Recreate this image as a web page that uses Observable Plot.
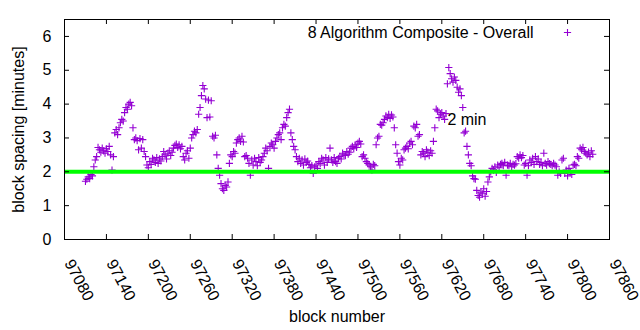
<!DOCTYPE html>
<html><head><meta charset="utf-8">
<script src="https://cdn.jsdelivr.net/npm/d3@7"></script>
<script src="https://cdn.jsdelivr.net/npm/@observablehq/plot@0.6"></script>
<style>body{margin:0;background:#fff} svg{display:block}</style>
</head><body><div id="chart"></div>
<script>
const xTicks = [97080, 97140, 97200, 97260, 97320, 97380, 97440, 97500, 97560, 97620, 97680, 97740, 97800, 97860];
const yTicks = [0, 1, 2, 3, 4, 5, 6];
const seriesName = "8 Algorithm Composite - Overall";
const targetMinutes = [2];
const annotations = [{block: 97628, minutes: 3.52, label: "2 min"}];
const xLabel = "block number";
const yLabel = "block spacing [minutes]";

// [first block, spacing values for every 2nd block]
const rows = [
  [97110, [1.72,1.78,1.85,1.80,1.92,1.88]],
  [97122, [2.15,2.35,2.45]],
  [97128, [2.72,2.65,2.58,2.70,2.62,2.55,2.68,2.60,2.75,2.50]],
  [97148, [2.05,2.45]],
  [97152, [3.15,3.25,3.10,3.30,3.45,3.55,3.50]],
  [97166, [3.75,3.90,3.85,4.00,4.05,3.95]],
  [97178, [3.30,2.95,3.00,2.92,2.65,2.98,2.70,2.95]],
  [97194, [2.60,2.45,2.20,2.12]],
  [97202, [2.30,2.22,2.40,2.35,2.28,2.42,2.25,2.38,2.32]],
  [97220, [2.45,2.60,2.50,2.38,2.55,2.62,2.48,2.58]],
  [97236, [2.70,2.78,2.82,2.72,2.80,2.68,2.75]],
  [97250, [2.45,2.35,2.55,2.62,2.40]],
  [97260, [2.70,3.00,3.10,3.20,3.15,3.25]],
  [97272, [3.70,3.90,4.25,4.55,4.45]],
  [97282, [4.15,3.60,4.12,3.62,4.10]],
  [97292, [3.05,3.00,3.08,2.50,2.10,1.90]],
  [97304, [1.65,1.50,1.45,1.60,1.55,1.70]],
  [97316, [2.25,2.50,2.45,2.60,2.55]],
  [97326, [2.85,2.95,3.00,2.90,3.05,2.88]],
  [97338, [2.45,2.48,2.40]],
  [97344, [2.25,1.90,2.35,2.20,2.40,2.30,2.18,2.42,2.28,2.35,2.45]],
  [97366, [2.55,2.70,2.62,2.10]],
  [97374, [2.75,2.85,2.80,2.70,2.90]],
  [97384, [3.00,3.10,3.15,2.95,3.30,3.40,3.35]],
  [97398, [3.60,3.75,3.85,3.15,2.95,2.75,2.65]],
  [97412, [2.45,2.30,2.40]],
  [97418, [2.25,2.35,2.20,2.38,2.28,2.32,2.22]],
  [97432, [2.12,2.18,1.95,2.15,2.20,2.10]],
  [97444, [2.30,2.25,2.40,2.35,2.20,2.42,2.28,2.38]],
  [97460, [2.70,2.35,2.28,2.42,2.30,2.25,2.40,2.45,2.38]],
  [97478, [2.55,2.50,2.48,2.60,2.52,2.58]],
  [97490, [2.70,2.75,2.68,2.80,2.72,2.85,2.90,2.82]],
  [97506, [2.45,2.50,2.40,2.30,2.25]],
  [97516, [2.20,2.15,2.05,2.22,2.18]],
  [97526, [2.80,3.00,3.05,3.40,3.38,3.45]],
  [97538, [3.55,3.65,3.60,3.70,3.58,3.68,3.62]],
  [97552, [3.30,2.80,2.55]],
  [97558, [2.30,2.20,2.40,2.35,2.65,2.70,2.75,2.68]],
  [97574, [2.85,2.90,2.80,3.35,3.30,3.40,3.05,3.10]],
  [97590, [2.50,2.60,2.55,2.45,2.65,2.58,2.48,2.62,2.55]],
  [97608, [2.90,3.30,3.85,3.80]],
  [97616, [3.60,3.70,3.75,3.65,3.55,3.72]],
  [97628, [4.60,5.08,4.90,4.75,4.65,4.80,4.70]],
  [97642, [4.50,4.35,4.45,4.25,3.90]],
  [97652, [3.15,3.20,2.75,2.50,2.25,2.18]],
  [97664, [1.88,1.80,1.78]],
  [97670, [1.45,1.30,1.25,1.40,1.35,1.50,1.28,1.42]],
  [97686, [1.70,1.85]],
  [97690, [2.00,2.10,2.05,2.15,1.98,2.20,2.12]],
  [97704, [2.22,2.25,2.18,2.28,1.90]],
  [97714, [2.20,2.18,2.25,2.15,2.22,2.20,2.24]],
  [97728, [2.45,2.40,2.50,2.42,2.48]],
  [97738, [2.20,2.25,1.90,2.18]],
  [97746, [2.35,2.28,2.40,2.22,2.45,2.30,2.38]],
  [97760, [2.22,2.28,2.18,2.55,2.25,2.20,2.30,2.24]],
  [97776, [2.22,2.18,2.25,2.20,2.15]],
  [97786, [1.90,2.00,1.95,2.35,2.40]],
  [97796, [1.95,2.05,1.88,2.10,2.00,1.92]],
  [97808, [2.20,2.22,2.18,2.45,2.40]],
  [97818, [2.70,2.65,2.72,2.60,2.55,2.50,2.58,2.45,2.62,2.52]]
];
const points = rows.flatMap(([start, vals]) => vals.map((v, i) => ({block: start + 2 * i, minutes: v})));

const plusSymbol = {
  draw(ctx, size) {
    const r = Math.sqrt(size / Math.PI);
    ctx.moveTo(-r, 0); ctx.lineTo(r, 0);
    ctx.moveTo(0, -r); ctx.lineTo(0, r);
  }
};
const purple = "#9400d3";
const font = "'Liberation Sans', Arial, sans-serif";

const chart = Plot.plot({
  width: 640, height: 330,
  marginLeft: 64, marginRight: 31, marginTop: 19, marginBottom: 91,
  style: {fontFamily: font, fontSize: "16px", color: "#000", background: "#fff"},
  x: {domain: [97080, 97860], axis: null},
  y: {domain: [0, 6.5], axis: null},
  marks: [
    Plot.dot(points, {x: "block", y: "minutes", symbol: plusSymbol, r: 3.6, fill: "none", stroke: purple, strokeWidth: 1.1}),
    Plot.ruleY(targetMinutes, {stroke: "#00ff00", strokeWidth: 4}),
    Plot.frame({stroke: "#000"}),
    Plot.tickX(xTicks, {x: d => d, insetTop: 215, stroke: "#000"}),
    Plot.tickX(xTicks, {x: d => d, insetBottom: 215, stroke: "#000"}),
    Plot.tickY(yTicks, {y: d => d, insetRight: 540, stroke: "#000"}),
    Plot.tickY(yTicks, {y: d => d, insetLeft: 540, stroke: "#000"}),
    Plot.text(yTicks, {y: d => d, text: d => String(d), frameAnchor: "left", textAnchor: "end", lineAnchor: "middle", dx: -13, fill: "#000"}),
    Plot.text(xTicks, {x: d => d, text: d => String(d), frameAnchor: "bottom", rotate: 62, textAnchor: "start", lineAnchor: "middle", dx: 4, dy: 21, fill: "#000"}),
    Plot.text([yLabel], {frameAnchor: "left", rotate: -90, dx: -46, textAnchor: "middle", lineAnchor: "middle", fill: "#000"}),
    Plot.text([xLabel], {frameAnchor: "bottom", dy: 77, textAnchor: "middle", lineAnchor: "middle", fill: "#000"}),
    Plot.text([seriesName], {frameAnchor: "top-right", dx: -76, dy: 13, textAnchor: "end", lineAnchor: "middle", fill: "#000"}),
    Plot.dot([seriesName], {frameAnchor: "top-right", dx: -42, dy: 13, symbol: plusSymbol, r: 3.6, fill: "none", stroke: purple, strokeWidth: 1.1}),
    Plot.text(annotations, {x: "block", y: "minutes", text: "label", textAnchor: "start", lineAnchor: "middle", fill: "#000"})
  ]
});
document.getElementById("chart").appendChild(chart);
</script>
</body></html>
